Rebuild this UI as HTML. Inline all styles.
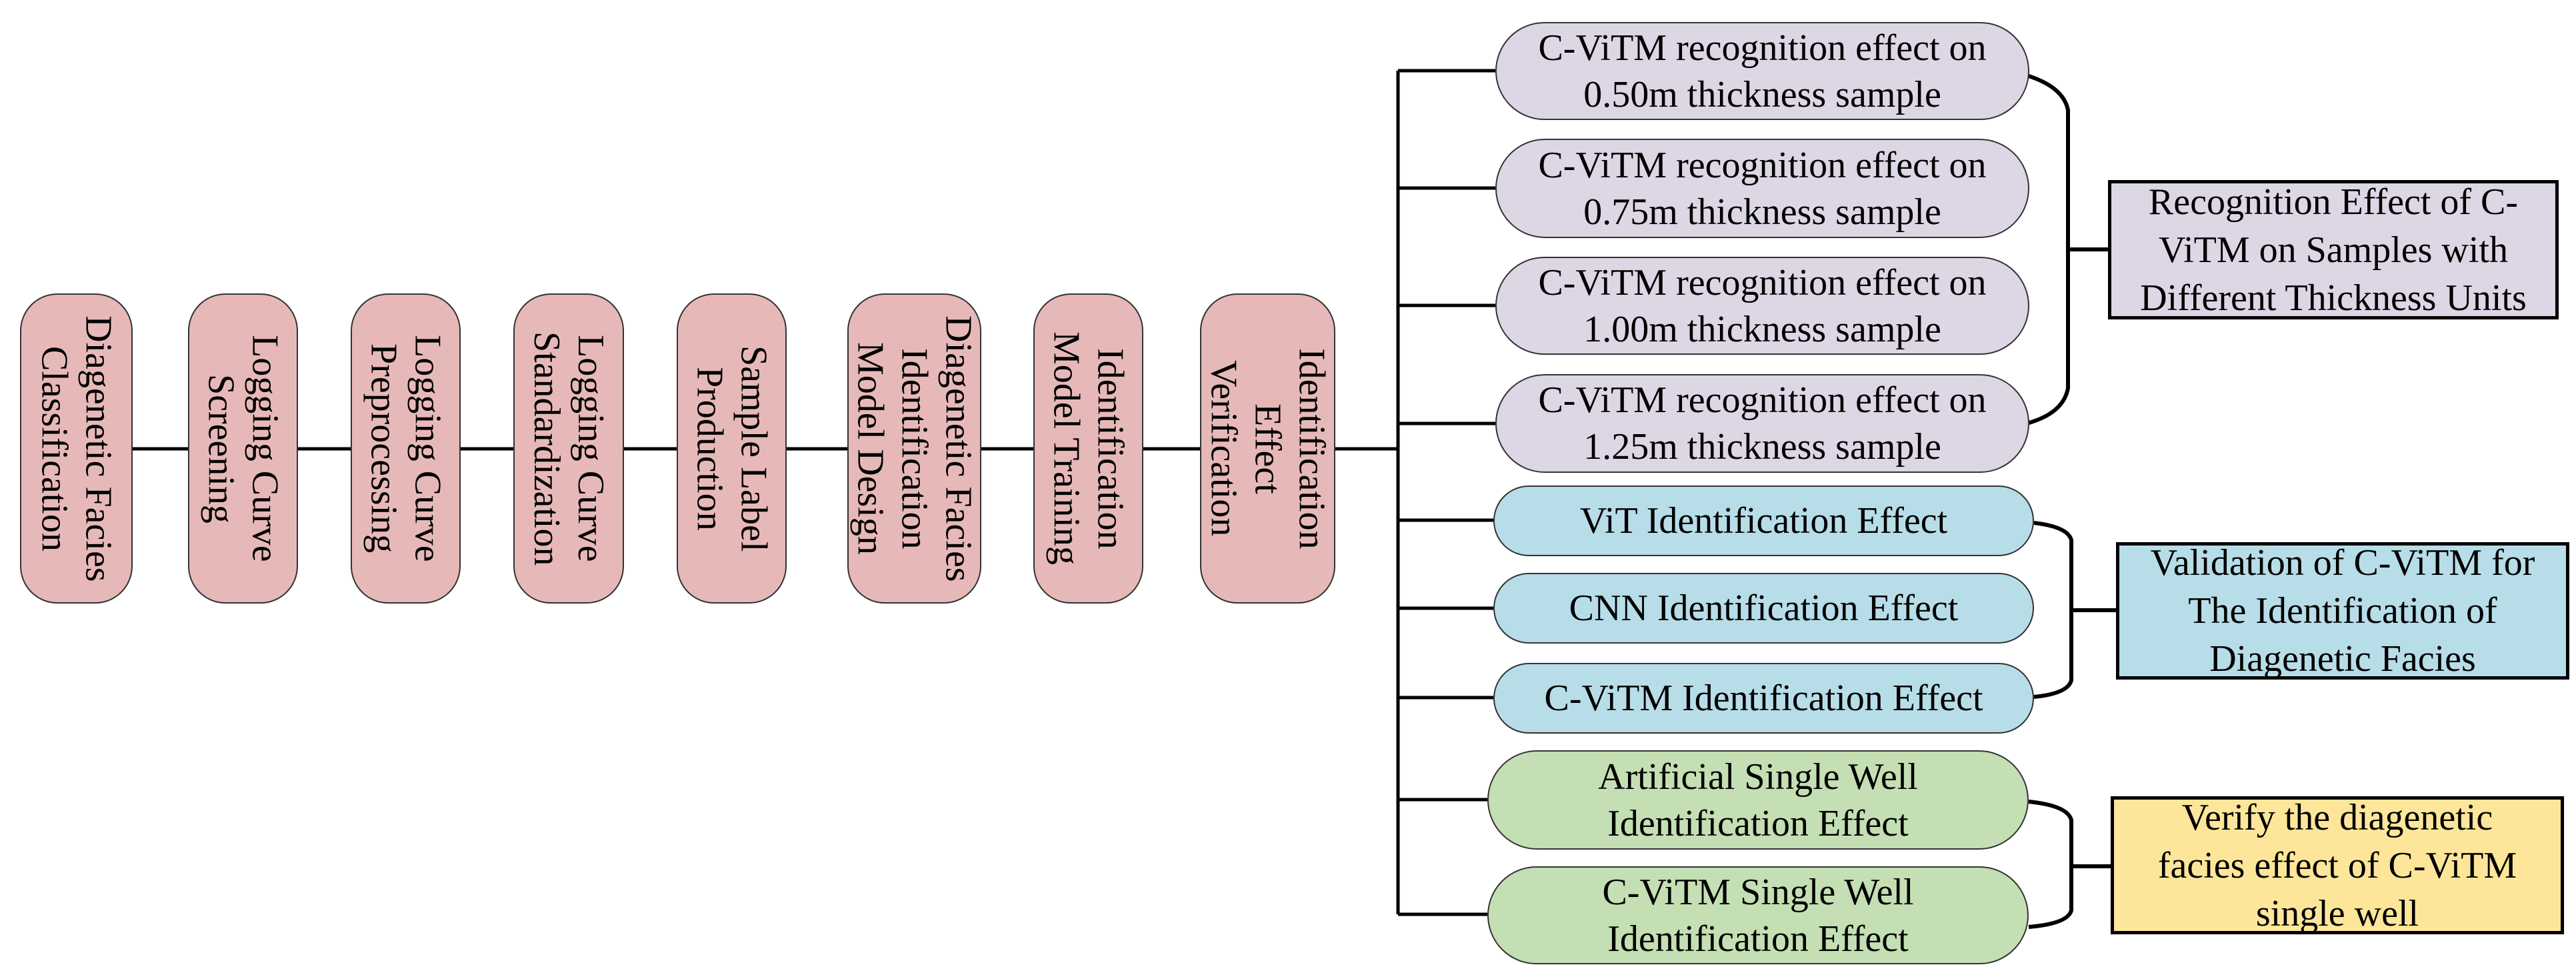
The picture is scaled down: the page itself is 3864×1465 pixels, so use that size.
<!DOCTYPE html>
<html><head><meta charset="utf-8"><style>
html,body{margin:0;padding:0;background:#fff;}
body{width:3864px;height:1465px;position:relative;overflow:hidden;font-family:"Liberation Serif",serif;color:#000;}
.v{position:absolute;background:#e6b9b8;border:2px solid #333;box-sizing:border-box;border-radius:56px;display:flex;align-items:center;justify-content:center;writing-mode:vertical-rl;font-size:56px;line-height:66px;text-align:center;}
.r{position:absolute;border:2px solid #333;box-sizing:border-box;display:flex;align-items:center;justify-content:center;text-align:center;font-size:56px;line-height:70px;}
.p{background:#dcd6e5;border-radius:75px;}
.b{background:#b7dde8;border-radius:53px;}
.g{background:#c4dfb3;border-radius:75px;}
.s{border:5px solid #000;line-height:72px;}
svg{position:absolute;left:0;top:0;}
</style></head><body>
<svg width="3864" height="1465" viewBox="0 0 3864 1465">
<g stroke="#000" stroke-width="5" fill="none">
<line x1="199" y1="673" x2="2097" y2="673"/>
<line x1="2097" y1="106" x2="2097" y2="1371"/>
<line x1="2097" y1="106" x2="2243" y2="106"/>
<line x1="2097" y1="282" x2="2243" y2="282"/>
<line x1="2097" y1="458" x2="2243" y2="458"/>
<line x1="2097" y1="635" x2="2243" y2="635"/>
<line x1="2097" y1="780" x2="2240" y2="780"/>
<line x1="2097" y1="912" x2="2240" y2="912"/>
<line x1="2097" y1="1046" x2="2240" y2="1046"/>
<line x1="2097" y1="1199" x2="2231" y2="1199"/>
<line x1="2097" y1="1371" x2="2231" y2="1371"/>
<path d="M3040 113 Q3095 130 3102 165 L3102 582 Q3095 620 3040 635" stroke-width="6"/>
<line x1="3102" y1="374" x2="3164" y2="374" stroke-width="6"/>
<path d="M3051 784 Q3102 790 3107 810 L3107 1020 Q3102 1040 3051 1045" stroke-width="6"/>
<line x1="3107" y1="915" x2="3174" y2="915" stroke-width="6"/>
<path d="M3043 1202 Q3102 1208 3107 1230 L3107 1365 Q3102 1385 3043 1390" stroke-width="6"/>
<line x1="3107" y1="1299" x2="3166" y2="1299" stroke-width="6"/>
</g></svg>
<div class="v" style="left:30px;top:440px;width:169px;height:465px">Diagenetic Facies<br>Classification</div>
<div class="v" style="left:282px;top:440px;width:165px;height:465px">Logging Curve<br>Screening</div>
<div class="v" style="left:526px;top:440px;width:165px;height:465px">Logging Curve<br>Preprocessing</div>
<div class="v" style="left:770px;top:440px;width:166px;height:465px">Logging Curve<br>Standardization</div>
<div class="v" style="left:1015px;top:440px;width:165px;height:465px">Sample Label<br>Production</div>
<div class="v" style="left:1271px;top:440px;width:201px;height:465px">Diagenetic Facies<br>Identification<br>Model Design</div>
<div class="v" style="left:1550px;top:440px;width:165px;height:465px">Identification<br>Model Training</div>
<div class="v" style="left:1800px;top:440px;width:203px;height:465px">Identification<br>Effect<br>Verification</div>

<div class="r p" style="left:2243px;top:33px;width:801px;height:147px">C-ViTM recognition effect on<br>0.50m thickness sample</div>
<div class="r p" style="left:2243px;top:208px;width:801px;height:149px">C-ViTM recognition effect on<br>0.75m thickness sample</div>
<div class="r p" style="left:2243px;top:385px;width:801px;height:147px">C-ViTM recognition effect on<br>1.00m thickness sample</div>
<div class="r p" style="left:2243px;top:561px;width:801px;height:148px">C-ViTM recognition effect on<br>1.25m thickness sample</div>
<div class="r b" style="left:2240px;top:728px;width:811px;height:106px">ViT Identification Effect</div>
<div class="r b" style="left:2240px;top:859px;width:811px;height:106px">CNN Identification Effect</div>
<div class="r b" style="left:2240px;top:994px;width:811px;height:106px">C-ViTM Identification Effect</div>
<div class="r g" style="left:2231px;top:1125px;width:812px;height:149px">Artificial Single Well<br>Identification Effect</div>
<div class="r g" style="left:2231px;top:1299px;width:812px;height:147px">C-ViTM Single Well<br>Identification Effect</div>

<div class="r s" style="left:3162px;top:270px;width:676px;height:209px;background:#dcd6e5">Recognition Effect of C-<br>ViTM on Samples with<br>Different Thickness Units</div>
<div class="r s" style="left:3174px;top:813px;width:680px;height:206px;background:#b7dde8">Validation of C-ViTM for<br>The Identification of<br>Diagenetic Facies</div>
<div class="r s" style="left:3166px;top:1194px;width:680px;height:207px;background:#fde699">Verify the diagenetic<br>facies effect of C-ViTM<br>single well</div>
</body></html>
